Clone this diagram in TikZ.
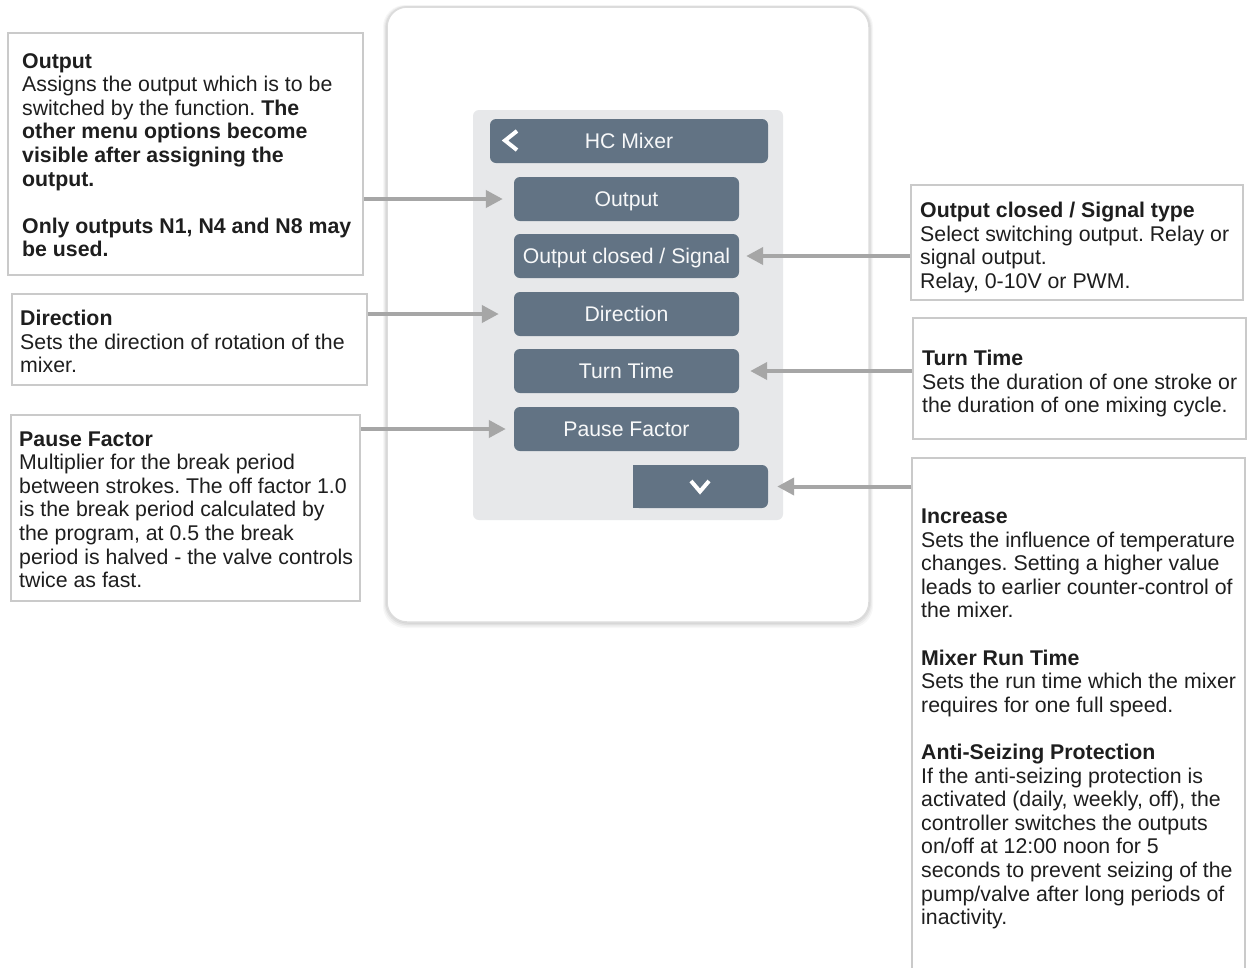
\documentclass[tikz,border=0pt]{standalone}
\usepackage{fontspec}
\setmainfont{Liberation Sans}
\usetikzlibrary{arrows.meta}
\frenchspacing
\definecolor{btn}{HTML}{627384}
\definecolor{panel}{HTML}{E7E8EA}
\definecolor{arr}{HTML}{A6A6A6}
\definecolor{boxline}{HTML}{CACACA}
\definecolor{txt}{HTML}{1E1E1E}
\definecolor{devline}{HTML}{DCDCDC}
\tikzset{
  btnbox/.style={fill=btn, rounded corners=6pt, minimum width=225pt, minimum height=44pt,
    inner sep=0pt, text=white!95!btn, text height=15pt, text depth=0pt,
    font=\fontsize{21.2}{23.6}\selectfont},
  descbox/.style={draw=boxline, line width=1.5pt, fill=white, inner sep=0pt},
  desc/.style={anchor=base west, inner sep=0pt, text=txt, font=\fontsize{21.3}{23.6}\selectfont},
  callout/.style={draw=arr, line width=4pt, -{Triangle[length=17pt,width=17pt]}, arr},
  chevron/.style={draw=white, line width=4pt},
}
\begin{document}
\begin{tikzpicture}[x=1pt,y=-1pt]
\useasboundingbox (0,0) rectangle (1247,967);
\clip (0,0) rectangle (1247,967);
\fill[white] (0,0) rectangle (1247,967);

% device
\foreach \s/\o in {4/0.03,3/0.04,2/0.05,1/0.06}{
  \fill[black, opacity=\o, rounded corners=22pt] (387-\s,7-\s*0.5) rectangle (869+\s,622+\s*1.5);
}
\node[draw=devline, line width=1.5pt, fill=white, rounded corners=20pt,
  minimum width=482pt, minimum height=615pt] (device) at (628,314.5) {};

% panel
\node[fill=panel, rounded corners=6pt, minimum width=310pt, minimum height=410pt] (panel) at (628,315) {};

% header
\node[btnbox, minimum width=278pt] (header) at (629,141) {HC Mixer};
\draw[chevron] (517,131) -- (505,140.5) -- (517,150);

% buttons
\node[btnbox] (bout) at (626.5,199) {Output};
\node[btnbox] (boc) at (626.5,256) {Output closed / Signal};
\node[btnbox] (bdir) at (626.5,314) {Direction};
\node[btnbox] (btt) at (626.5,371) {Turn Time};
\node[btnbox] (bpf) at (626.5,429) {Pause Factor};
\node[btnbox, minimum width=135pt, minimum height=43pt] (bdown) at (700.5,486.5) {};
\fill[btn] (bdown.north west) rectangle ([xshift=20pt]bdown.south west);
\draw[chevron] (691,481) -- (700,491.5) -- (709,481);

% description boxes
\node[descbox, minimum width=355pt, minimum height=242pt] (outbox) at (185.5,154) {};
\node[descbox, minimum width=355pt, minimum height=91pt] (dirbox) at (189.5,339.5) {};
\node[descbox, minimum width=349pt, minimum height=186pt] (pfbox) at (185.5,508) {};
\node[descbox, minimum width=332pt, minimum height=115pt] (ocbox) at (1077,242.5) {};
\node[descbox, minimum width=333pt, minimum height=121pt] (ttbox) at (1079.5,378.5) {};
\node[descbox, minimum width=333pt, minimum height=540pt] (incbox) at (1078.5,728) {};

% texts
\node[desc] (outtxt) at (22,68) {\parbox[t]{340pt}{\textbf{Output}\\
Assigns the output which is to be\\
switched by the function. \textbf{The}\\
\textbf{other menu options become}\\
\textbf{visible after assigning the}\\
\textbf{output.}\\[23.6pt]
\textbf{Only outputs N1, N4 and N8 may}\\
\textbf{be used.}}};

\node[desc] (dirtxt) at (20,325.5) {\parbox[t]{340pt}{\textbf{Direction}\\
Sets the direction of rotation of the\\
mixer.}};

\node[desc] (pftxt) at (19,446) {\parbox[t]{340pt}{\textbf{Pause Factor}\\
Multiplier for the break period\\
between strokes. The off factor 1.0\\
is the break period calculated by\\
the program, at 0.5 the break\\
period is halved - the valve controls\\
twice as fast.}};

\node[desc] (octxt) at (920,217.5) {\parbox[t]{325pt}{\textbf{Output closed / Signal type}\\
Select switching output. Relay or\\
signal output.\\
Relay, 0-10V or PWM.}};

\node[desc] (tttxt) at (922,365.5) {\parbox[t]{325pt}{\textbf{Turn Time}\\
Sets the duration of one stroke or\\
the duration of one mixing cycle.}};

\node[desc] (inctxt) at (921,523.5) {\parbox[t]{325pt}{\textbf{Increase}\\
Sets the influence of temperature\\
changes. Setting a higher value\\
leads to earlier counter-control of\\
the mixer.\\[23.6pt]
\textbf{Mixer Run Time}\\
Sets the run time which the mixer\\
requires for one full speed.\\[23.6pt]
\textbf{Anti-Seizing Protection}\\
If the anti-seizing protection is\\
activated (daily, weekly, off), the\\
controller switches the outputs\\
on/off at 12:00 noon for 5\\
seconds to prevent seizing of the\\
pump/valve after long periods of\\
inactivity.}};

% connectors
\draw[callout] (outbox.east |- bout.west) -- ([xshift=-11pt]bout.west);
\draw[callout] (dirbox.east |- bdir.west) -- ([xshift=-15pt]bdir.west);
\draw[callout] (pfbox.east |- bpf.west) -- ([xshift=-8pt]bpf.west);
\draw[callout] (ocbox.west |- boc.east) -- ([xshift=7pt]boc.east);
\draw[callout] (ttbox.west |- btt.east) -- ([xshift=11pt]btt.east);
\draw[callout] (incbox.west |- bdown.east) -- ([xshift=9pt]bdown.east);
\end{tikzpicture}
\end{document}
